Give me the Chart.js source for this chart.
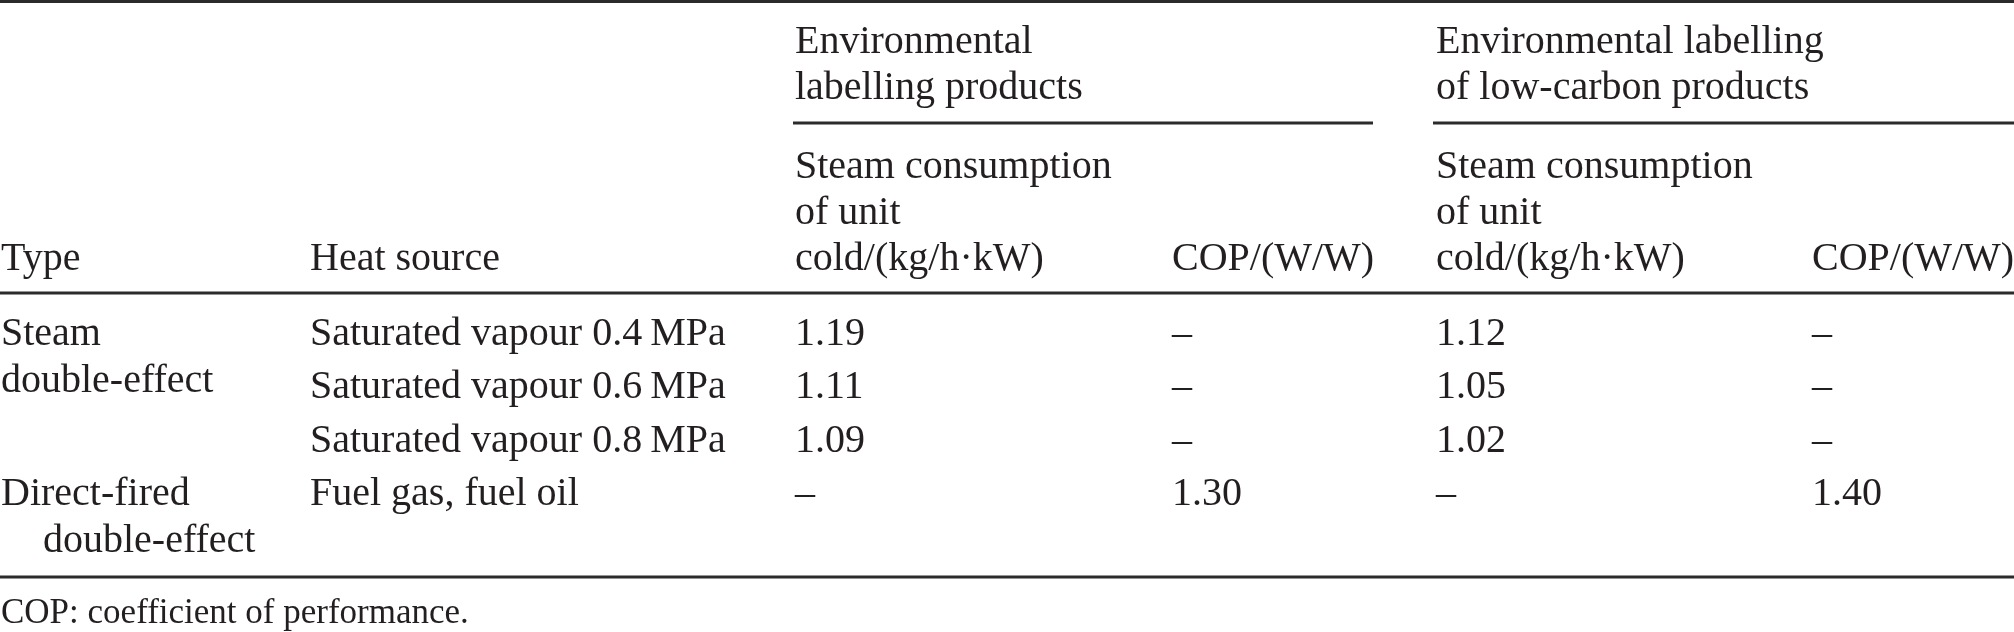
<!DOCTYPE html>
<html>
<head>
<meta charset="utf-8">
<title>Steam and direct-fired double-effect chillers</title>
<script src="https://cdn.jsdelivr.net/npm/chart.js@4.4.1/dist/chart.umd.min.js"></script>
<style>
  html, body { margin: 0; padding: 0; background: #fff; }
  #table { display: block; }
</style>
</head>
<body>
<canvas id="table" width="2014" height="632"></canvas>
<script>
// table content
const groupHeaders = [
  ["Environmental", "labelling products"],
  ["Environmental labelling", "of low-carbon products"]
];
const columnHeaders = [
  ["Type"],
  ["Heat source"],
  ["Steam consumption", "of unit", "cold/(kg/h\u00b7kW)"],
  ["COP/(W/W)"],
  ["Steam consumption", "of unit", "cold/(kg/h\u00b7kW)"],
  ["COP/(W/W)"]
];
const types = [
  { row: 0, lines: ["Steam", "double-effect"] },
  { row: 3, lines: ["Direct-fired", "double-effect"] }
];
const heatSources = [
  "Saturated vapour 0.4\u2009MPa",
  "Saturated vapour 0.6\u2009MPa",
  "Saturated vapour 0.8\u2009MPa",
  "Fuel gas, fuel oil"
];
const steamEnv = [1.19, 1.11, 1.09, null];
const copEnv = [null, null, null, 1.30];
const steamLowCarbon = [1.12, 1.05, 1.02, null];
const copLowCarbon = [null, null, null, 1.40];
const footnote = "COP: coefficient of performance.";

// layout (page pixels, mapped through the chart's linear scales)
const colX = [1, 310, 795, 1172, 1436, 1812];
const groupSpans = [[793, 1373], [1433, 2014]];
const groupBaselines = [53, 99];
const headerBaselines = [178, 224, 270];
const rowBaselines = [345, 398, 452, 505];
const lineGap = 47;
const rules = { top: 1.5, group: 123, head: 293, bottom: 577 };
const footY = 623;
const ink = "#231f20";
const ruleInk = "#2b2b2b";
const bodyFont = '40px "Liberation Serif", "Times New Roman", serif';
const footFont = '35px "Liberation Serif", "Times New Roman", serif';

const fmt = (v) => (v === null ? "\u2013" : v.toFixed(2));
const cellData = (values, col) =>
  values.map((v, i) => ({ x: colX[col], y: rowBaselines[i], label: fmt(v) }));

const tablePlugin = {
  id: "tableText",
  afterDatasetsDraw(chart) {
    const { ctx, scales: { x, y } } = chart;
    const px = (v) => x.getPixelForValue(v);
    const py = (v) => y.getPixelForValue(v);

    ctx.save();
    ctx.strokeStyle = ruleInk;
    ctx.lineWidth = 3;
    const hline = (yy, x0, x1) => {
      ctx.beginPath();
      ctx.moveTo(px(x0), py(yy));
      ctx.lineTo(px(x1), py(yy));
      ctx.stroke();
    };
    hline(rules.top, 0, 2014);
    groupSpans.forEach(([a, b]) => hline(rules.group, a, b));
    hline(rules.head, 0, 2014);
    hline(rules.bottom, 0, 2014);

    ctx.fillStyle = ink;
    ctx.textAlign = "left";
    ctx.textBaseline = "alphabetic";
    ctx.font = bodyFont;
    const text = (s, xx, yy) => ctx.fillText(s, px(xx), py(yy));

    groupHeaders.forEach((lines, g) => {
      lines.forEach((s, i) => text(s, colX[2 + g * 2], groupBaselines[i]));
    });
    columnHeaders.forEach((lines, c) => {
      const start = headerBaselines.length - lines.length;
      lines.forEach((s, i) => text(s, colX[c], headerBaselines[start + i]));
    });
    types.forEach((t) => {
      const indent = t.row === 3 ? 42 : 0;
      text(t.lines[0], colX[0], rowBaselines[t.row]);
      text(t.lines[1], colX[0] + indent, rowBaselines[t.row] + lineGap);
    });
    heatSources.forEach((s, i) => text(s, colX[1], rowBaselines[i]));

    // numeric cells come from the scatter datasets
    chart.data.datasets.forEach((ds, di) => {
      chart.getDatasetMeta(di).data.forEach((el, i) => {
        ctx.fillText(ds.data[i].label, el.x, el.y);
      });
    });

    ctx.font = footFont;
    text(footnote, colX[0], footY);
    ctx.restore();
  }
};

function draw() {
  new Chart(document.getElementById("table"), {
    type: "scatter",
    data: {
      datasets: [
        { label: "Steam consumption (environmental)", data: cellData(steamEnv, 2) },
        { label: "COP (environmental)", data: cellData(copEnv, 3) },
        { label: "Steam consumption (low-carbon)", data: cellData(steamLowCarbon, 4) },
        { label: "COP (low-carbon)", data: cellData(copLowCarbon, 5) }
      ]
    },
    options: {
      responsive: false,
      animation: false,
      devicePixelRatio: 1,
      layout: { padding: 0 },
      elements: { point: { radius: 0, hoverRadius: 0 } },
      plugins: { legend: { display: false }, tooltip: { enabled: false } },
      events: [],
      scales: {
        x: { type: "linear", min: 0, max: 2014, display: false },
        y: { type: "linear", min: 0, max: 632, reverse: true, display: false }
      }
    },
    plugins: [tablePlugin]
  });
}

if (document.fonts && document.fonts.load) {
  document.fonts.load(bodyFont).then(draw, draw);
} else {
  draw();
}
</script>
</body>
</html>
